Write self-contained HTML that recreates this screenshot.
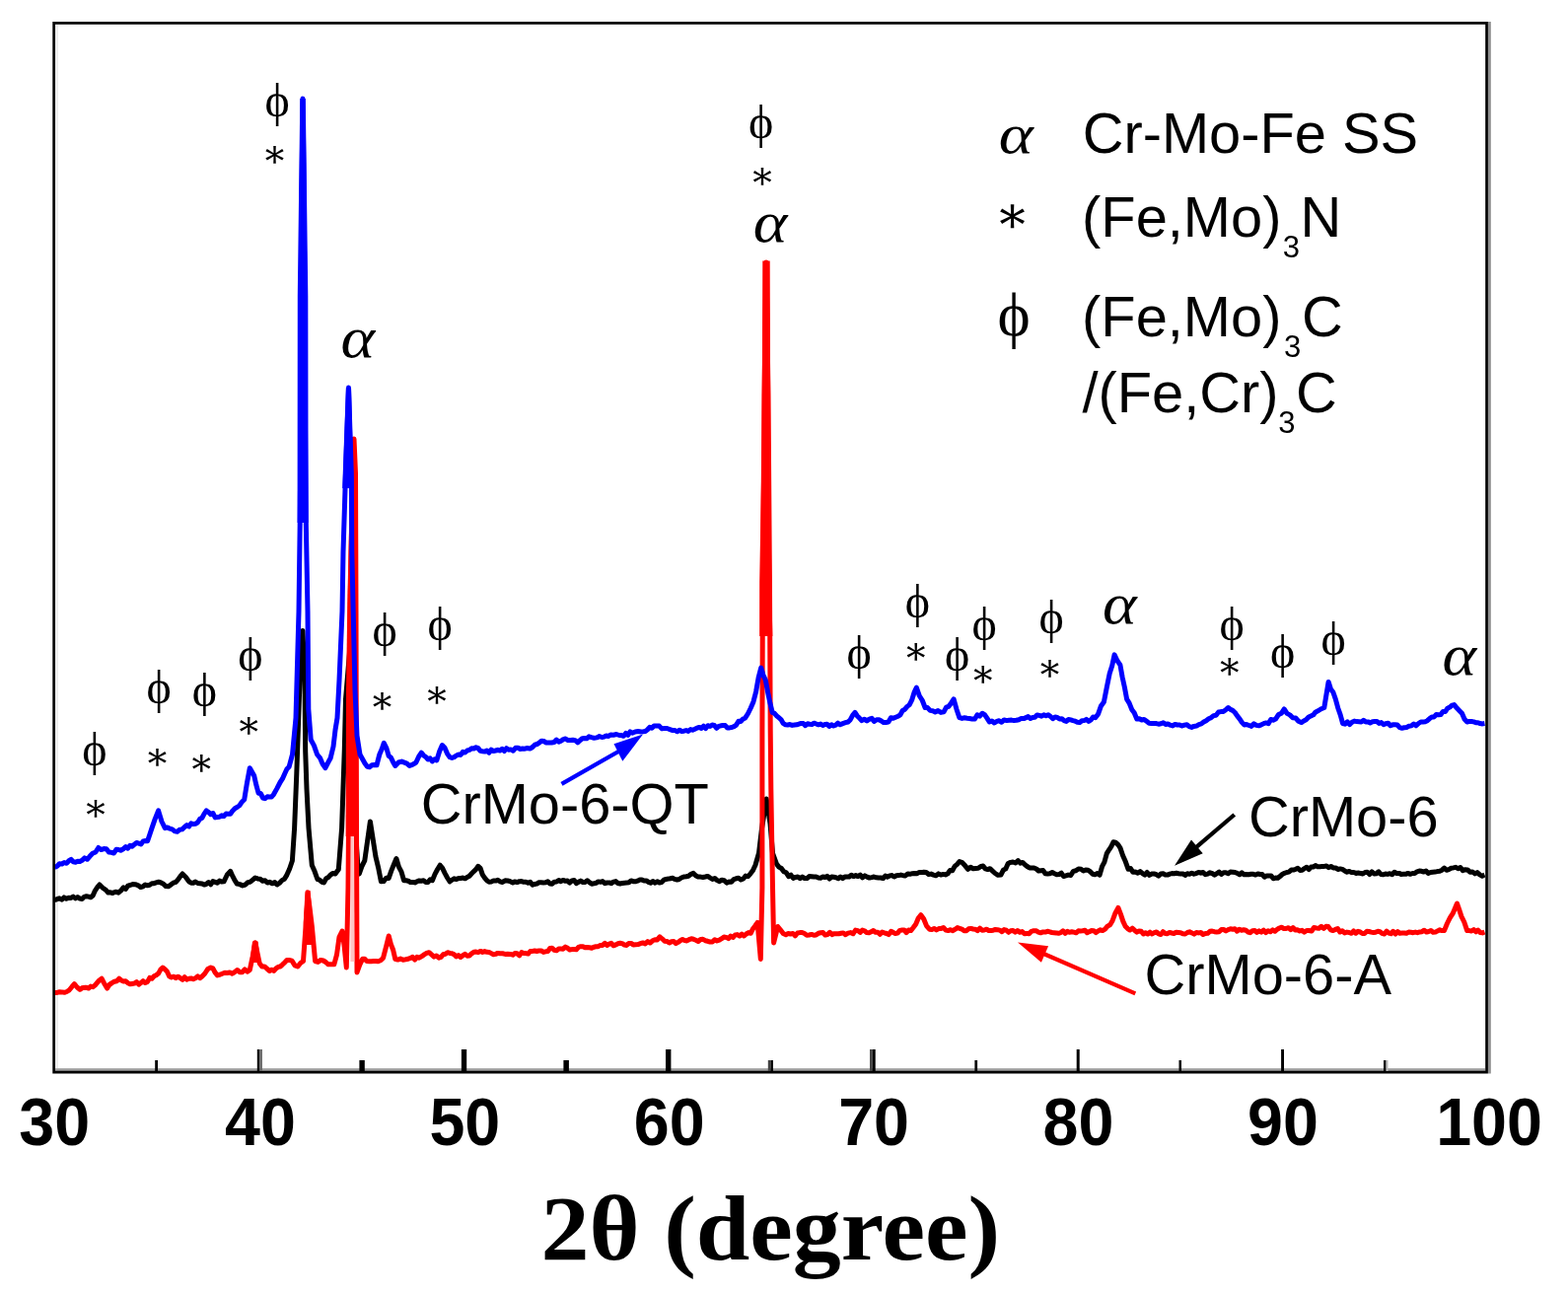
<!DOCTYPE html>
<html><head><meta charset="utf-8"><title>XRD patterns</title>
<style>
html,body{margin:0;padding:0;background:#fff;}
body{width:1590px;height:1311px;overflow:hidden;position:relative;}
svg{position:absolute;left:0;top:0;display:block;}
</style></head><body>
<svg width="1590" height="1311" viewBox="0 0 1590 1311">
<rect width="1590" height="1311" fill="#fff"/>
<rect x="56" y="25" width="3" height="1058" fill="#ececec"/>
<rect x="56" y="1083.2" width="1450" height="2.8" fill="#a0a0a0"/>
<rect x="1509" y="22" width="2.8" height="1066.5" fill="#8e8e8e"/>
<path d="M54.65,1088.3 V23.4 H1507.55 V1087.2 H53.3" fill="none" stroke="#000" stroke-width="2.7"/>
<rect x="157.2" y="1075" width="2.8" height="11" fill="#000"/>
<rect x="260.8" y="1064" width="2.5" height="22" fill="#000"/>
<rect x="263.3" y="1064" width="2.6" height="22" fill="#666"/>
<rect x="364.4" y="1075" width="5.4" height="11" fill="#000"/>
<rect x="467.9" y="1064" width="5.3" height="22" fill="#000"/>
<rect x="571.4" y="1075" width="5.5" height="11" fill="#000"/>
<rect x="675" y="1064" width="5.4" height="22" fill="#000"/>
<rect x="778.8" y="1075" width="2.6" height="11" fill="#444"/>
<rect x="781.4" y="1075" width="2.5" height="11" fill="#000"/>
<rect x="882" y="1064" width="2.5" height="22" fill="#444"/>
<rect x="884.5" y="1064" width="3.2" height="22" fill="#000"/>
<rect x="988.4" y="1075" width="2.7" height="11" fill="#000"/>
<rect x="1091.7" y="1064" width="3.0" height="22" fill="#000"/>
<rect x="1195.5" y="1075" width="2.5" height="11" fill="#000"/>
<rect x="1299.1" y="1064" width="2.9" height="22" fill="#000"/>
<rect x="1403" y="1075" width="2.6" height="11" fill="#000"/>
<rect x="1405.6" y="1075" width="1.9" height="11" fill="#bbb"/>
<defs><clipPath id="pc"><rect x="56" y="25" width="1450" height="1060"/></clipPath></defs>
<path clip-path="url(#pc)" d="M55.5,912.6 L57.9,911.7 L60.2,910.8 L62.6,912.2 L64.9,909.9 L67.3,911.2 L69.6,910.3 L72.0,910.4 L74.2,909.1 L76.5,910.9 L78.7,909.5 L81.0,911.1 L83.2,911.5 L85.4,909.3 L87.6,908.7 L89.8,909.1 L92.0,909.8 L94.2,908.0 L96.4,903.1 L98.7,899.7 L100.9,897.0 L104.2,900.2 L107.5,902.6 L109.7,905.1 L112.0,904.8 L114.2,905.5 L117.1,904.2 L120.1,905.2 L123.0,902.6 L125.2,899.8 L127.5,901.3 L129.7,898.1 L131.9,897.5 L134.5,896.6 L137.2,896.7 L139.8,897.6 L142.5,899.6 L145.1,898.8 L147.3,897.1 L149.5,897.8 L151.8,897.3 L154.0,895.8 L156.2,895.7 L158.4,894.9 L160.8,894.2 L163.3,895.0 L165.7,896.2 L168.2,898.6 L170.6,898.8 L173.2,897.1 L175.7,895.2 L178.3,894.4 L180.5,891.9 L182.8,888.6 L185.0,886.0 L188.3,889.2 L191.6,893.8 L193.8,895.2 L196.0,895.2 L198.2,894.0 L200.5,895.5 L202.7,895.7 L204.9,896.0 L207.1,897.1 L209.3,896.3 L211.5,894.6 L213.7,896.8 L215.9,893.6 L218.2,894.4 L220.4,895.3 L222.6,893.1 L224.8,894.0 L227.0,893.8 L230.3,887.0 L233.6,883.4 L235.8,888.2 L238.1,892.7 L240.3,896.0 L243.1,896.6 L246.0,897.9 L248.8,897.0 L251.3,894.6 L253.8,894.2 L256.3,892.1 L258.8,890.0 L261.3,890.9 L263.8,891.2 L266.3,893.2 L268.8,892.7 L271.2,895.1 L273.7,894.3 L276.1,895.8 L278.6,894.6 L281.0,897.0 L283.5,895.2 L285.9,892.6 L288.4,891.3 L290.9,887.1 L293.6,881.0 L296.4,872.7 L298.6,839.6 L300.8,784.2 L303.0,720.0 L305.0,660.0 L307.0,639.4 L309.0,690.0 L309.7,762.0 L311.0,800.0 L313.0,839.6 L316.3,877.2 L319.1,883.6 L321.9,891.5 L324.1,892.2 L326.3,894.3 L328.5,894.9 L330.7,890.7 L332.9,889.6 L335.1,887.1 L337.6,885.4 L340.0,886.0 L343.3,881.6 L346.6,839.6 L349.3,760.0 L350.5,709.0 L355.5,650.0 L357.5,720.0 L360.2,800.0 L361.6,860.0 L363.0,880.0 L364.3,886.0 L367.1,878.0 L369.8,872.7 L375.4,832.9 L380.9,868.3 L383.6,879.6 L386.4,893.8 L389.0,893.6 L391.6,890.3 L394.2,890.4 L396.8,882.9 L399.3,876.8 L401.9,870.5 L404.5,879.2 L407.0,883.9 L409.6,892.7 L411.8,892.7 L414.0,893.2 L416.2,894.6 L418.5,894.5 L420.7,894.9 L422.9,893.8 L425.1,892.9 L427.3,893.2 L429.5,892.8 L431.8,894.5 L434.0,894.6 L436.2,891.7 L438.4,892.7 L441.0,886.4 L443.6,881.5 L446.2,877.2 L448.7,880.4 L451.1,885.4 L453.6,890.0 L456.1,893.8 L458.3,892.3 L460.5,890.8 L462.8,891.5 L465.0,890.6 L467.2,890.4 L469.4,890.1 L471.6,890.8 L473.8,889.4 L476.0,888.2 L478.2,885.8 L480.4,883.6 L482.7,881.4 L484.9,878.3 L487.1,880.4 L489.3,886.9 L491.5,890.1 L493.7,892.7 L495.9,894.2 L498.1,894.1 L500.4,892.9 L502.6,893.1 L504.8,892.3 L507.0,893.8 L509.6,894.5 L512.2,892.8 L514.8,893.0 L517.4,893.7 L520.0,894.9 L522.2,893.9 L524.4,894.6 L526.7,893.7 L528.9,893.6 L531.1,894.3 L533.3,894.2 L535.5,895.2 L537.7,894.2 L540.0,897.2 L542.2,896.4 L544.4,896.1 L546.6,894.7 L548.8,894.8 L551.1,894.9 L553.3,894.8 L555.5,893.7 L557.7,896.0 L559.9,896.2 L562.1,894.2 L564.4,894.1 L566.6,892.5 L568.8,893.7 L571.0,892.4 L573.3,893.3 L575.5,893.1 L577.7,895.1 L579.9,892.9 L582.2,892.5 L584.4,895.7 L586.6,894.3 L588.8,893.1 L591.1,894.5 L593.3,894.4 L595.5,892.8 L597.7,894.6 L600.0,896.2 L602.2,895.8 L604.4,895.3 L606.6,893.9 L608.8,894.3 L611.0,893.6 L613.3,895.7 L615.5,895.0 L617.7,894.9 L619.9,895.7 L622.1,894.1 L624.4,893.6 L626.6,895.5 L628.8,896.0 L631.0,895.4 L633.2,895.2 L635.4,895.1 L637.7,894.7 L639.9,892.9 L642.1,893.7 L644.3,893.8 L646.5,893.2 L648.8,892.1 L651.0,892.1 L653.2,893.0 L655.4,892.9 L657.6,894.4 L659.8,895.3 L662.1,893.5 L664.3,895.2 L666.5,893.7 L668.7,895.0 L670.9,894.6 L673.2,892.2 L675.4,891.4 L677.6,891.1 L679.8,890.7 L682.0,890.3 L684.2,891.4 L686.5,892.0 L688.7,891.5 L690.9,890.0 L693.4,889.0 L695.8,888.7 L698.2,888.2 L700.7,886.3 L703.1,885.4 L705.5,887.8 L707.9,889.1 L710.4,889.1 L712.8,889.5 L715.2,889.0 L717.6,888.4 L720.0,890.0 L722.4,891.5 L724.8,890.5 L727.2,892.6 L729.6,893.7 L732.0,892.2 L734.4,892.7 L736.8,895.1 L739.2,894.1 L741.6,894.2 L744.0,891.6 L746.4,890.8 L748.9,890.2 L751.3,892.0 L753.7,891.0 L756.1,888.1 L758.5,888.6 L761.0,885.8 L763.5,882.5 L766.0,877.0 L769.5,865.0 L772.5,840.0 L777.2,810.0 L781.0,835.0 L783.5,865.0 L787.5,876.0 L789.9,879.1 L792.4,880.5 L794.8,883.7 L797.3,884.8 L799.7,888.6 L802.0,887.1 L804.3,890.4 L806.7,889.4 L809.0,889.1 L811.3,890.6 L813.6,889.0 L816.0,890.6 L818.3,890.6 L820.6,888.6 L822.9,888.8 L825.3,889.1 L827.6,889.0 L829.9,890.0 L832.1,890.2 L834.4,889.0 L836.6,889.5 L838.8,888.4 L841.0,891.0 L843.3,889.0 L845.5,889.3 L847.7,889.7 L850.0,890.7 L852.2,889.0 L854.4,890.6 L856.6,889.1 L858.9,889.1 L861.1,889.0 L863.3,887.2 L865.5,888.6 L867.8,887.6 L870.0,888.6 L872.3,887.1 L874.6,889.9 L877.0,887.9 L879.3,889.1 L881.6,890.1 L883.9,889.6 L886.2,889.0 L888.6,889.8 L890.9,890.0 L893.2,890.0 L895.5,890.6 L897.7,888.0 L900.0,889.2 L902.2,887.9 L904.5,887.6 L906.7,889.0 L909.0,887.8 L911.2,887.6 L913.5,887.1 L915.8,887.7 L918.1,887.9 L920.5,886.0 L922.8,886.3 L925.1,885.7 L927.4,885.4 L929.7,885.7 L932.1,884.6 L934.4,884.6 L936.7,884.2 L939.2,884.5 L941.7,886.5 L944.2,886.1 L946.6,887.1 L949.1,887.8 L951.6,885.9 L954.1,887.1 L956.4,886.4 L958.7,886.9 L961.1,885.7 L963.4,882.4 L965.7,882.8 L968.1,878.4 L970.5,876.4 L972.9,873.5 L975.8,874.6 L978.7,877.8 L981.6,881.3 L984.2,879.3 L986.8,880.7 L989.4,880.5 L992.0,880.3 L994.6,878.4 L996.9,878.1 L999.2,880.9 L1001.6,881.6 L1003.9,880.7 L1006.2,882.8 L1009.1,885.5 L1012.0,887.3 L1014.9,887.1 L1017.3,882.3 L1019.8,880.9 L1022.2,875.5 L1024.7,874.4 L1027.2,874.0 L1029.8,875.0 L1032.3,872.6 L1034.6,875.2 L1036.9,874.4 L1039.3,876.7 L1041.6,878.5 L1043.9,879.9 L1046.2,879.9 L1048.5,880.0 L1050.9,881.0 L1053.2,883.0 L1055.5,882.8 L1057.8,882.6 L1060.0,885.7 L1062.3,886.0 L1064.6,885.8 L1067.0,884.5 L1069.3,885.7 L1071.6,886.8 L1073.9,886.6 L1076.2,885.2 L1078.6,888.5 L1080.9,887.9 L1083.2,887.1 L1085.8,887.5 L1088.4,883.4 L1091.0,882.8 L1093.6,880.9 L1096.2,881.3 L1098.6,883.0 L1100.9,882.0 L1103.3,882.2 L1105.7,883.9 L1108.0,886.3 L1110.4,886.7 L1112.7,885.6 L1115.1,887.1 L1117.5,878.7 L1119.9,874.1 L1122.3,865.4 L1124.5,861.8 L1126.8,858.3 L1129.0,853.8 L1131.3,854.3 L1133.6,856.2 L1135.9,859.6 L1138.6,867.5 L1141.4,873.8 L1144.1,881.3 L1146.5,880.6 L1148.9,884.3 L1151.3,884.0 L1153.8,885.3 L1156.2,883.6 L1158.6,885.7 L1160.9,887.1 L1163.2,884.5 L1165.5,887.4 L1167.8,886.1 L1170.2,885.9 L1172.5,886.7 L1174.8,888.1 L1177.1,886.0 L1179.4,885.7 L1181.7,887.1 L1183.9,887.1 L1186.2,886.1 L1188.4,885.6 L1190.6,885.7 L1192.9,885.2 L1195.1,885.7 L1197.3,886.0 L1199.5,885.9 L1201.8,887.4 L1204.0,885.7 L1206.2,886.3 L1208.5,885.2 L1210.7,886.2 L1213.0,885.6 L1215.3,884.5 L1217.7,885.2 L1220.0,884.4 L1222.3,886.7 L1224.6,886.1 L1226.9,884.8 L1229.3,885.7 L1231.6,887.2 L1233.9,885.7 L1236.2,884.1 L1238.5,886.4 L1240.8,884.8 L1243.1,884.8 L1245.4,885.8 L1247.7,884.1 L1250.0,884.2 L1252.3,884.5 L1254.6,885.4 L1257.0,886.7 L1259.3,884.8 L1261.6,886.8 L1263.9,886.6 L1266.2,886.7 L1268.6,886.2 L1270.9,886.3 L1273.2,887.1 L1275.5,885.9 L1277.7,886.5 L1280.0,886.6 L1282.2,889.2 L1284.5,887.9 L1286.7,887.9 L1289.0,887.9 L1291.2,890.8 L1293.5,890.0 L1295.8,890.3 L1298.0,888.6 L1300.3,886.4 L1302.5,885.3 L1304.8,884.5 L1307.0,884.1 L1309.3,882.1 L1311.5,882.1 L1313.8,881.3 L1316.0,880.3 L1318.3,882.4 L1320.5,882.2 L1322.7,880.6 L1325.0,879.3 L1327.2,881.5 L1329.4,879.1 L1331.6,879.0 L1333.9,877.6 L1336.1,878.7 L1338.3,878.8 L1340.6,878.6 L1342.8,878.4 L1345.1,878.0 L1347.4,879.6 L1349.7,878.5 L1352.0,879.9 L1354.3,879.9 L1356.7,881.5 L1359.0,880.9 L1361.3,881.4 L1363.6,883.0 L1365.9,884.2 L1368.2,883.4 L1370.5,884.6 L1372.8,884.5 L1375.1,885.4 L1377.3,885.1 L1379.6,885.4 L1381.9,886.0 L1384.2,884.5 L1386.5,884.3 L1388.8,886.6 L1391.1,883.9 L1393.4,885.9 L1395.7,885.7 L1398.0,883.8 L1400.2,886.5 L1402.5,886.8 L1404.8,886.0 L1407.1,886.4 L1409.4,885.7 L1411.7,886.7 L1414.0,884.3 L1416.3,885.5 L1418.6,885.4 L1420.8,886.4 L1423.1,886.3 L1425.4,886.3 L1427.7,885.4 L1430.0,886.3 L1432.3,885.5 L1434.6,885.5 L1436.9,883.8 L1439.2,883.1 L1441.5,883.3 L1443.7,884.0 L1446.0,883.1 L1448.3,885.5 L1450.6,884.5 L1452.9,884.2 L1455.2,884.1 L1457.5,883.6 L1459.9,883.3 L1462.2,882.2 L1464.5,880.1 L1466.8,882.3 L1469.1,881.6 L1471.5,880.3 L1473.8,879.9 L1476.1,879.3 L1478.5,880.7 L1480.9,879.5 L1483.3,882.6 L1485.8,881.7 L1488.2,881.9 L1490.6,884.2 L1493.1,883.9 L1495.6,885.9 L1498.0,884.6 L1500.5,886.9 L1503.0,888.2 L1505.5,887.1" fill="none" stroke="#000" stroke-width="5.0" stroke-linejoin="round" stroke-linecap="butt"/>
<path clip-path="url(#pc)" d="M55.5,1006.6 L57.9,1006.4 L60.4,1005.8 L62.8,1005.9 L65.3,1006.3 L67.7,1005.5 L70.3,1003.8 L72.8,1000.7 L75.4,997.7 L78.2,1001.0 L81.0,1003.3 L83.9,1001.4 L86.9,1001.2 L89.8,1002.0 L92.0,1000.1 L94.3,1000.7 L96.5,998.8 L99.8,994.8 L103.1,992.2 L105.8,997.3 L108.6,1002.0 L111.0,998.4 L113.5,996.6 L115.9,995.3 L118.4,994.7 L120.8,992.2 L123.0,994.0 L125.2,995.0 L127.5,994.8 L129.7,996.7 L131.9,997.7 L134.1,997.4 L136.3,997.1 L138.5,995.7 L140.7,998.2 L142.9,996.6 L145.1,994.7 L147.3,996.5 L149.6,995.4 L151.8,991.4 L154.0,992.2 L156.2,989.8 L158.4,988.8 L160.6,987.1 L162.8,983.1 L165.0,981.0 L167.2,982.7 L169.4,985.0 L171.7,990.0 L173.9,991.0 L176.1,990.2 L178.3,991.6 L180.5,990.2 L182.8,991.7 L185.0,993.3 L187.2,990.7 L189.4,993.1 L191.6,992.2 L193.8,991.9 L196.0,992.8 L198.2,991.8 L200.5,989.8 L202.7,991.7 L204.9,990.0 L207.8,987.0 L210.8,982.4 L213.7,981.0 L215.9,981.9 L218.2,986.2 L220.4,988.9 L222.9,988.3 L225.4,987.3 L227.9,986.3 L230.5,986.5 L233.0,985.9 L235.5,987.2 L238.0,985.6 L240.6,983.5 L243.1,985.7 L245.7,985.7 L248.2,982.8 L250.8,985.2 L253.3,983.4 L256.1,970.3 L258.8,955.7 L263.2,976.7 L265.7,980.0 L268.2,979.9 L270.7,982.1 L273.2,984.5 L275.4,983.2 L277.6,984.4 L279.8,982.1 L282.0,980.4 L284.2,980.0 L286.4,978.1 L288.6,975.9 L290.9,973.5 L293.1,973.4 L296.0,974.2 L299.0,978.9 L301.9,980.0 L304.7,976.5 L307.5,974.5 L310.0,940.0 L311.9,904.8 L314.0,920.0 L316.3,939.1 L319.6,974.5 L322.4,975.4 L325.2,973.4 L327.8,974.0 L330.3,975.5 L332.9,977.8 L335.9,977.8 L338.8,977.8 L341.5,968.0 L344.0,950.0 L347.0,944.0 L349.0,958.0 L351.3,981.0 L353.0,900.0 L353.5,840.0 L355.0,620.0 L357.5,480.0 L359.0,445.0 L360.5,480.0 L361.0,620.0 L361.5,840.0 L362.0,986.0 L364.8,978.1 L367.6,972.3 L369.8,972.2 L372.0,974.6 L374.2,974.7 L376.5,974.8 L378.7,974.6 L380.9,974.5 L383.5,974.8 L386.0,973.8 L388.6,971.2 L391.4,960.3 L394.2,949.0 L396.4,957.5 L398.6,963.0 L400.8,972.3 L403.4,973.1 L406.1,972.1 L408.7,973.2 L411.4,972.8 L414.0,972.3 L416.2,971.4 L418.4,970.3 L420.7,973.1 L422.9,970.2 L425.1,971.2 L427.6,969.7 L430.1,967.9 L432.6,966.4 L435.1,965.7 L437.6,967.9 L440.1,970.1 L442.5,969.0 L445.0,971.2 L447.2,970.4 L449.4,967.8 L451.7,967.3 L453.9,965.7 L456.1,966.4 L458.3,966.7 L460.5,967.8 L462.7,970.0 L464.9,968.6 L467.1,970.5 L469.4,968.7 L471.6,967.3 L473.8,969.2 L476.0,969.1 L478.2,966.8 L480.5,965.3 L482.7,965.1 L484.9,965.7 L487.1,964.4 L489.3,965.4 L491.5,964.6 L493.7,965.3 L495.9,965.4 L498.2,966.6 L500.4,967.8 L502.6,967.4 L504.8,966.4 L507.0,966.8 L509.6,966.8 L512.2,967.4 L514.8,967.2 L517.4,967.4 L520.0,968.2 L522.2,966.4 L524.4,966.8 L526.7,968.8 L528.9,965.6 L531.1,966.5 L533.3,966.6 L535.5,967.1 L537.7,964.5 L540.0,964.4 L542.2,964.0 L544.4,964.5 L546.6,963.9 L548.8,963.9 L551.1,965.4 L553.3,964.8 L555.5,964.6 L557.7,961.5 L559.9,961.3 L562.1,963.4 L564.4,963.8 L566.6,962.1 L568.8,962.0 L571.0,962.2 L573.3,960.1 L575.5,961.3 L577.7,963.0 L579.9,962.6 L582.2,962.6 L584.4,962.8 L586.6,960.3 L588.8,959.7 L591.1,959.7 L593.3,960.8 L595.5,960.5 L597.7,960.8 L600.0,961.3 L602.2,960.2 L604.4,959.7 L606.6,959.7 L608.8,958.4 L611.0,958.4 L613.3,956.3 L615.5,958.5 L617.7,957.2 L619.9,956.4 L622.1,958.8 L624.4,957.9 L626.6,956.8 L628.8,956.3 L631.0,956.7 L633.2,958.1 L635.4,958.4 L637.7,956.5 L639.9,956.4 L642.1,957.9 L644.5,957.7 L647.0,957.6 L649.4,956.7 L651.9,955.9 L654.3,956.9 L656.8,954.6 L659.2,956.0 L661.7,953.8 L664.1,952.8 L666.5,952.9 L669.0,949.8 L671.4,951.8 L673.9,954.2 L676.3,954.4 L678.7,956.0 L680.9,954.8 L683.2,954.5 L685.4,956.6 L687.6,955.4 L689.8,953.7 L692.1,952.4 L694.3,953.6 L696.5,953.9 L698.7,952.7 L701.0,951.8 L703.2,952.3 L705.6,953.3 L708.0,954.5 L710.4,952.5 L712.8,952.3 L715.2,953.7 L717.6,954.3 L720.0,955.0 L722.4,955.0 L724.7,952.7 L727.1,954.0 L729.4,953.2 L731.8,951.7 L734.1,950.1 L736.5,950.4 L738.7,951.6 L741.0,949.0 L743.2,950.4 L745.5,948.0 L747.7,947.6 L750.0,949.0 L752.2,947.1 L754.5,949.0 L756.7,947.0 L759.0,945.6 L761.2,946.3 L763.5,941.7 L765.8,938.7 L768.1,935.3 L771.3,972.4 L772.9,900.0 L772.9,740.0 L773.4,600.0 L775.0,400.0 L777.0,266.0 L779.0,400.0 L780.5,600.0 L781.2,740.0 L781.8,800.0 L783.5,900.0 L784.6,956.0 L788.7,939.5 L791.4,942.8 L794.2,946.5 L796.9,947.7 L799.3,946.4 L801.6,947.1 L804.0,946.4 L806.3,948.9 L808.7,946.0 L811.0,945.6 L813.4,945.5 L815.8,946.5 L818.1,948.2 L820.5,948.0 L822.8,947.4 L825.2,948.2 L827.5,947.9 L829.9,946.3 L832.2,945.8 L834.5,945.5 L836.8,948.1 L839.1,947.6 L841.4,945.3 L843.6,947.6 L845.9,946.7 L848.2,946.8 L850.5,946.8 L852.8,946.3 L855.1,945.9 L857.4,947.7 L859.9,946.1 L862.4,945.6 L865.0,946.8 L867.5,943.1 L870.0,943.6 L872.2,945.4 L874.5,943.1 L876.7,943.8 L878.9,945.6 L881.2,945.8 L883.4,944.7 L885.6,943.6 L887.8,945.3 L890.1,945.2 L892.3,947.3 L894.5,945.0 L896.8,945.8 L899.0,946.5 L901.2,947.6 L903.5,944.4 L905.7,945.4 L907.9,946.5 L910.2,946.1 L912.4,943.4 L914.7,943.1 L916.9,942.9 L919.1,945.6 L921.4,943.0 L923.6,943.6 L926.1,940.5 L928.7,937.0 L931.2,931.1 L933.8,927.7 L936.7,931.8 L939.6,938.9 L942.5,942.2 L944.9,942.6 L947.2,941.4 L949.6,942.9 L952.0,941.6 L954.4,941.4 L956.7,940.5 L959.1,943.1 L961.5,943.6 L963.9,942.7 L966.2,943.7 L968.6,942.2 L970.9,940.6 L973.1,941.3 L975.4,942.1 L977.7,943.8 L980.0,943.7 L982.2,941.8 L984.5,941.4 L986.8,942.0 L989.0,942.2 L991.3,943.7 L993.6,941.1 L995.9,943.2 L998.1,943.0 L1000.4,942.2 L1002.6,943.5 L1004.9,943.6 L1007.1,943.2 L1009.3,942.5 L1011.6,942.7 L1013.8,943.1 L1016.0,944.7 L1018.2,942.6 L1020.5,943.2 L1022.7,945.3 L1024.9,943.8 L1027.2,943.4 L1029.4,945.1 L1031.8,943.5 L1034.1,945.3 L1036.5,944.5 L1038.8,946.7 L1041.2,946.4 L1043.5,946.8 L1045.9,944.3 L1048.2,943.7 L1050.6,943.7 L1052.9,945.1 L1055.3,945.8 L1057.6,944.9 L1060.0,945.1 L1062.2,944.2 L1064.5,944.8 L1066.7,945.5 L1068.9,945.7 L1071.2,945.9 L1073.4,946.3 L1075.6,945.7 L1077.8,943.8 L1080.1,946.3 L1082.3,944.4 L1084.5,945.3 L1086.8,944.7 L1089.0,945.1 L1091.2,945.8 L1093.5,943.8 L1095.7,943.9 L1097.9,943.8 L1100.2,943.3 L1102.4,945.7 L1104.6,944.6 L1106.8,943.6 L1109.1,943.7 L1111.3,945.6 L1113.5,943.9 L1115.8,942.8 L1118.0,943.6 L1120.5,942.1 L1123.0,939.1 L1125.6,937.7 L1128.1,933.5 L1131.0,925.6 L1133.9,920.4 L1136.3,926.6 L1138.8,934.1 L1141.2,939.3 L1143.5,941.6 L1145.8,943.0 L1148.2,941.2 L1150.5,943.2 L1152.8,945.1 L1155.0,943.9 L1157.2,944.2 L1159.4,947.0 L1161.6,945.7 L1163.9,947.0 L1166.1,945.2 L1168.3,946.9 L1170.5,945.6 L1172.7,945.0 L1174.9,946.9 L1177.1,947.5 L1179.3,944.7 L1181.6,946.5 L1183.8,946.7 L1186.0,945.4 L1188.2,946.0 L1190.4,946.5 L1192.7,945.3 L1195.0,945.5 L1197.2,945.7 L1199.5,946.8 L1201.8,947.0 L1204.1,945.5 L1206.3,944.8 L1208.6,945.9 L1210.9,947.1 L1213.2,945.4 L1215.5,945.9 L1217.7,945.5 L1220.0,947.5 L1222.3,946.5 L1224.6,946.3 L1226.9,944.3 L1229.2,944.1 L1231.5,944.7 L1233.8,944.9 L1236.2,944.8 L1238.5,942.6 L1240.8,942.5 L1243.1,943.9 L1245.4,942.6 L1247.7,941.8 L1250.0,942.2 L1252.2,941.8 L1254.5,944.2 L1256.7,942.2 L1258.9,943.3 L1261.2,942.8 L1263.4,943.3 L1265.6,945.0 L1267.8,945.7 L1270.1,943.7 L1272.3,943.4 L1274.5,945.4 L1276.8,943.9 L1279.0,945.1 L1281.3,943.1 L1283.6,945.7 L1285.9,943.7 L1288.2,944.7 L1290.5,942.9 L1292.8,944.2 L1295.0,942.4 L1297.3,941.0 L1299.6,940.2 L1301.9,941.6 L1304.2,941.5 L1306.5,940.7 L1308.8,942.7 L1311.1,940.6 L1313.4,943.0 L1315.6,942.8 L1317.9,943.9 L1320.2,943.3 L1322.5,945.1 L1325.0,943.5 L1327.5,943.5 L1330.0,944.1 L1332.4,940.5 L1334.9,940.9 L1337.4,941.2 L1339.9,939.3 L1342.3,941.4 L1344.6,939.3 L1347.0,939.6 L1349.4,942.9 L1351.7,943.6 L1354.1,942.4 L1356.4,941.5 L1358.8,945.0 L1361.2,943.7 L1363.5,945.9 L1365.9,945.1 L1368.1,945.5 L1370.4,946.3 L1372.6,944.0 L1374.8,946.2 L1377.1,944.3 L1379.3,945.0 L1381.5,946.5 L1383.7,946.5 L1386.0,944.3 L1388.2,944.5 L1390.4,945.1 L1392.7,945.6 L1394.9,945.2 L1397.1,944.3 L1399.4,944.8 L1401.6,946.4 L1403.8,947.0 L1406.1,944.2 L1408.3,946.0 L1410.5,946.7 L1412.7,944.3 L1415.0,947.0 L1417.2,944.6 L1419.4,946.3 L1421.7,946.1 L1423.9,946.0 L1426.2,946.3 L1428.4,945.1 L1430.7,945.3 L1432.9,945.7 L1435.2,945.1 L1437.4,945.7 L1439.7,944.9 L1441.9,944.7 L1444.2,943.2 L1446.5,945.1 L1448.7,944.5 L1451.0,943.5 L1453.2,945.2 L1455.5,945.1 L1457.7,943.9 L1460.0,942.8 L1462.2,943.6 L1464.5,943.6 L1467.4,936.5 L1470.3,930.7 L1473.2,926.2 L1477.5,916.1 L1479.7,922.4 L1481.9,929.1 L1484.8,935.0 L1487.7,943.6 L1489.9,943.6 L1492.2,944.0 L1494.4,942.6 L1496.6,944.8 L1498.8,943.1 L1501.0,945.5 L1503.3,945.9 L1505.5,945.1" fill="none" stroke="#f00" stroke-width="5.0" stroke-linejoin="round" stroke-linecap="butt"/>
<path clip-path="url(#pc)" d="M357,447 L361,447 L362.3,620 L363.4,848 L350.6,848 L351,700 L352.5,600 L355,500 Z" fill="#f00"/>
<path d="M310,903 L314.6,903 L316.9,935 L316.6,958 L308.2,958 L307.8,935 Z M256,954.5 L261.6,954.5 L264,976 L253.4,976 Z" fill="#f00"/>
<path d="M355.6,848 L358.8,848 L359.2,975 L355.4,975 Z" fill="#ffc4c4"/>
<path d="M773.3,264.5 L780.7,264.5 L781.2,455 L782.3,600 L783.4,645 L770.2,645 L770.2,590 L772.6,455 Z" fill="#f00"/>
<path d="M304.3,100 L309.8,100 L312.3,300 L312.6,530 L301.6,530 L301.8,300 Z M350.9,393 L356,393 L358.5,495 L347.2,495 Z" fill="#00f"/>
<path clip-path="url(#pc)" d="M55.5,879.4 L57.9,878.3 L60.3,875.7 L62.7,876.1 L65.1,874.5 L67.5,875.3 L69.9,872.7 L72.1,871.4 L74.3,873.8 L76.6,874.2 L78.8,873.2 L81.0,873.4 L83.2,872.3 L85.8,869.9 L88.4,871.3 L91.0,868.3 L93.9,865.3 L96.9,864.0 L99.8,859.5 L102.5,861.5 L105.3,860.6 L107.9,860.7 L110.4,864.0 L113.0,864.3 L115.4,865.0 L117.9,861.3 L120.3,861.6 L122.8,862.2 L125.2,860.6 L127.4,858.6 L129.6,860.2 L131.9,857.2 L134.1,858.2 L136.3,856.2 L138.5,854.4 L140.7,855.1 L142.9,855.9 L145.2,852.9 L147.4,852.6 L149.6,852.8 L151.8,846.2 L154.0,839.6 L157.3,830.1 L160.6,821.9 L164.0,833.0 L167.3,839.6 L169.8,838.9 L172.2,840.2 L174.7,840.9 L177.2,842.9 L179.7,843.3 L182.2,841.3 L184.7,840.9 L187.2,838.5 L189.4,836.6 L191.6,838.0 L193.8,834.9 L196.0,835.6 L198.2,835.2 L200.4,834.0 L202.6,830.5 L204.9,829.2 L207.1,825.1 L209.3,821.9 L211.5,823.5 L213.7,825.8 L216.0,824.5 L218.2,828.9 L220.4,828.5 L222.6,828.3 L224.8,826.8 L227.0,827.5 L229.2,825.1 L231.4,825.2 L233.6,825.2 L235.9,822.1 L238.1,819.7 L240.3,818.5 L242.8,816.8 L245.2,813.2 L247.7,810.8 L250.5,793.7 L253.3,778.7 L257.7,786.5 L259.9,796.2 L262.1,804.2 L264.3,804.5 L266.6,809.0 L268.8,809.7 L271.0,807.8 L273.2,808.0 L275.4,808.0 L277.6,805.3 L280.9,799.4 L284.2,793.0 L286.4,789.7 L288.6,784.7 L290.9,779.8 L293.1,777.6 L296.5,765.0 L300.0,728.0 L303.0,620.0 L304.2,530.0 L305.3,400.0 L306.0,200.0 L307.0,100.0 L308.3,200.0 L309.2,400.0 L310.3,530.0 L312.0,620.0 L312.8,719.0 L315.2,750.0 L318.4,755.9 L321.6,765.0 L324.4,768.3 L327.1,774.5 L329.9,778.6 L332.5,773.5 L335.1,768.8 L338.0,757.0 L340.0,740.0 L342.0,728.0 L344.0,690.0 L347.0,620.0 L348.0,560.0 L350.5,480.0 L353.5,393.0 L356.3,480.0 L356.8,560.0 L358.2,620.0 L360.0,700.0 L362.0,746.0 L365.0,765.0 L367.5,769.5 L370.0,774.0 L372.4,777.2 L374.7,777.7 L377.1,775.8 L379.6,775.5 L382.0,775.8 L384.8,765.0 L387.1,759.7 L389.3,753.3 L391.8,758.3 L394.2,766.5 L396.4,768.1 L398.6,772.7 L400.8,776.5 L404.1,773.0 L407.4,772.1 L410.0,773.1 L412.6,774.1 L415.2,776.5 L417.4,775.7 L419.6,774.6 L421.8,773.2 L424.6,767.2 L427.3,763.2 L429.5,765.9 L431.8,767.6 L434.0,769.9 L436.2,768.9 L438.4,771.9 L440.6,769.9 L442.8,771.0 L445.6,762.1 L448.4,755.5 L451.0,758.2 L453.5,764.1 L456.1,767.7 L458.3,768.5 L460.5,767.7 L462.8,766.0 L465.0,765.1 L467.2,765.4 L469.4,762.3 L471.6,763.0 L473.8,761.0 L476.0,760.4 L478.2,758.8 L480.5,759.0 L482.7,757.7 L484.9,758.6 L487.1,761.4 L489.3,761.8 L491.5,762.1 L493.7,761.1 L495.9,763.2 L498.1,760.1 L500.4,761.6 L502.6,761.0 L504.8,760.3 L507.0,761.0 L509.2,759.3 L511.4,761.5 L513.6,758.7 L515.8,760.3 L518.0,759.9 L520.4,761.2 L522.8,758.3 L525.2,758.3 L527.5,759.5 L529.9,758.9 L532.3,759.2 L534.7,758.5 L537.4,759.1 L540.0,757.5 L542.3,755.2 L544.6,754.5 L546.8,753.2 L549.1,751.2 L551.4,751.5 L554.0,753.1 L556.7,753.0 L559.4,753.0 L562.0,752.5 L564.3,750.1 L566.6,752.3 L568.9,751.2 L571.2,749.6 L573.5,749.0 L576.0,750.6 L578.4,750.4 L580.9,750.3 L583.3,750.7 L585.8,752.8 L588.1,750.7 L590.4,748.8 L592.6,748.6 L594.9,748.8 L597.2,746.8 L599.8,747.6 L602.5,748.3 L605.1,747.9 L607.8,746.6 L610.4,747.5 L612.6,747.1 L614.8,746.0 L617.0,746.6 L619.2,745.0 L622.1,745.2 L625.1,744.5 L628.0,745.5 L630.2,745.6 L632.4,746.3 L634.6,743.4 L636.8,745.3 L639.0,741.9 L641.2,743.2 L644.1,742.0 L647.1,741.5 L650.0,742.0 L652.2,741.8 L654.4,741.5 L656.6,739.8 L658.8,737.4 L661.0,738.3 L663.2,736.0 L665.8,735.9 L668.5,736.1 L671.1,738.9 L673.8,738.4 L676.4,738.5 L680.0,739.8 L682.3,740.6 L684.5,740.6 L686.8,741.8 L689.0,740.2 L691.3,741.5 L693.5,741.2 L695.8,740.6 L698.0,741.4 L700.2,739.6 L702.4,740.2 L704.6,739.3 L706.8,738.1 L709.0,737.4 L711.2,738.4 L713.4,736.2 L715.6,738.6 L717.8,735.7 L720.0,736.5 L722.2,735.0 L724.4,735.4 L726.6,738.3 L728.8,736.4 L731.0,735.8 L733.2,735.5 L735.4,735.6 L737.6,738.0 L739.8,737.9 L742.0,737.5 L744.3,736.6 L746.6,735.1 L748.9,731.2 L751.1,731.4 L753.4,729.0 L755.7,727.9 L758.5,723.5 L761.2,718.0 L764.0,711.4 L766.6,701.3 L769.1,687.1 L771.7,677.1 L774.0,684.6 L776.3,689.5 L778.6,701.9 L780.9,712.9 L783.2,722.4 L785.4,723.3 L787.6,725.8 L789.8,727.7 L792.0,729.6 L794.2,733.4 L796.5,734.8 L798.8,734.9 L801.0,734.6 L803.3,735.4 L805.6,735.0 L807.9,734.8 L810.1,734.1 L812.3,733.4 L814.5,733.4 L816.7,735.7 L818.9,733.8 L821.1,734.2 L823.3,734.5 L825.5,733.2 L827.7,734.0 L829.9,734.8 L832.1,734.1 L834.3,735.5 L836.5,734.4 L838.7,734.2 L840.9,736.4 L843.1,734.8 L845.3,736.0 L847.5,735.2 L849.7,733.2 L851.9,734.8 L854.6,733.6 L857.3,732.7 L860.0,732.0 L862.3,729.7 L864.7,725.1 L867.0,722.4 L869.3,725.9 L871.5,728.1 L873.8,730.7 L876.4,729.2 L879.0,730.9 L881.6,729.1 L884.0,728.3 L886.4,731.4 L888.9,729.7 L891.3,729.7 L893.7,731.0 L896.1,732.6 L898.5,732.4 L900.9,732.1 L903.4,727.7 L905.8,728.3 L908.2,727.2 L910.6,726.2 L912.9,724.9 L915.2,720.5 L917.6,719.2 L919.9,716.4 L922.2,714.6 L924.6,709.9 L927.0,702.2 L929.4,697.2 L932.3,705.5 L935.2,710.0 L938.1,717.5 L940.6,717.6 L943.2,720.4 L945.8,720.8 L948.3,721.9 L951.2,720.6 L954.1,722.4 L957.0,721.9 L959.5,717.2 L962.0,716.3 L964.6,712.7 L967.1,708.8 L970.0,719.2 L972.9,727.7 L975.5,728.4 L978.1,727.8 L980.7,728.2 L983.3,728.5 L985.9,729.1 L988.5,729.0 L991.0,724.8 L993.5,726.1 L996.1,723.3 L998.5,724.6 L1000.9,728.1 L1003.3,732.0 L1005.8,731.0 L1008.3,733.0 L1010.8,731.4 L1013.2,730.8 L1015.7,732.3 L1018.2,729.9 L1020.7,730.6 L1023.2,730.2 L1025.7,730.1 L1028.2,730.6 L1030.6,730.3 L1033.1,729.7 L1035.6,728.4 L1038.1,728.6 L1040.4,727.6 L1042.6,726.6 L1044.9,728.5 L1047.1,727.5 L1049.4,727.3 L1051.6,724.9 L1053.9,725.4 L1056.1,726.2 L1058.4,724.8 L1060.7,725.7 L1063.0,724.8 L1065.3,726.5 L1067.6,728.6 L1069.9,727.0 L1072.2,727.4 L1074.5,729.1 L1076.8,728.8 L1079.0,730.6 L1081.3,731.4 L1083.5,729.5 L1085.8,729.9 L1088.0,730.6 L1090.3,731.2 L1092.5,732.3 L1094.8,732.6 L1097.1,730.7 L1099.3,730.6 L1101.6,729.4 L1103.9,731.4 L1106.2,729.9 L1108.4,727.0 L1110.7,727.7 L1113.6,723.9 L1116.5,715.7 L1119.4,711.7 L1122.3,696.9 L1125.2,682.8 L1127.7,675.0 L1130.1,663.9 L1133.0,670.0 L1135.9,674.1 L1138.1,686.5 L1140.4,697.0 L1142.6,708.8 L1145.1,712.8 L1147.7,719.4 L1150.2,722.7 L1152.8,729.1 L1155.3,728.7 L1157.7,730.0 L1160.2,729.4 L1162.7,731.3 L1165.2,733.2 L1167.6,733.5 L1170.1,733.5 L1172.5,733.6 L1174.8,734.2 L1177.2,733.8 L1179.6,732.8 L1182.0,734.5 L1184.3,733.9 L1186.7,735.2 L1189.1,735.9 L1191.5,734.4 L1193.8,735.0 L1196.2,734.9 L1198.6,736.0 L1201.0,735.1 L1203.5,734.7 L1205.9,736.7 L1208.3,737.4 L1210.7,736.4 L1213.2,736.1 L1215.7,734.6 L1218.2,733.9 L1220.6,732.0 L1223.1,730.7 L1225.6,728.8 L1228.1,727.7 L1230.6,725.6 L1233.1,725.2 L1235.6,722.0 L1238.0,721.6 L1240.5,721.4 L1243.0,719.7 L1245.5,717.5 L1247.8,719.4 L1250.0,720.4 L1252.3,722.5 L1254.6,725.9 L1257.0,728.9 L1259.3,732.4 L1261.6,734.9 L1264.1,734.6 L1266.6,735.5 L1269.1,736.4 L1271.5,733.8 L1274.0,735.4 L1276.5,735.8 L1279.0,734.9 L1281.4,733.6 L1283.8,732.9 L1286.2,733.6 L1288.7,729.5 L1291.1,730.2 L1293.5,729.1 L1296.4,724.6 L1299.3,723.3 L1302.2,719.0 L1305.1,723.4 L1308.0,724.9 L1310.9,727.7 L1313.8,728.0 L1316.7,731.2 L1319.6,732.6 L1322.0,731.0 L1324.4,729.8 L1326.8,727.3 L1329.3,725.9 L1331.7,724.8 L1334.1,721.9 L1337.0,720.5 L1339.9,718.7 L1342.8,717.5 L1347.1,691.4 L1349.5,698.7 L1351.9,702.0 L1354.3,708.8 L1356.7,717.7 L1359.2,724.9 L1361.6,733.5 L1363.9,734.2 L1366.3,731.8 L1368.7,734.6 L1371.0,732.3 L1373.3,731.1 L1375.7,731.6 L1378.1,731.8 L1380.4,732.0 L1382.7,730.4 L1384.9,731.9 L1387.2,731.9 L1389.4,732.9 L1391.7,731.8 L1393.9,731.6 L1396.2,731.5 L1398.4,733.4 L1400.7,732.6 L1403.0,734.6 L1405.3,733.7 L1407.7,733.2 L1410.0,735.7 L1412.3,734.8 L1414.6,734.7 L1416.9,735.0 L1419.3,737.7 L1421.6,738.3 L1423.9,737.8 L1426.3,737.5 L1428.7,736.3 L1431.2,735.9 L1433.6,734.0 L1436.0,735.8 L1438.4,733.5 L1440.7,732.0 L1442.9,732.0 L1445.2,731.7 L1447.4,730.7 L1449.7,728.6 L1451.9,727.0 L1454.2,726.9 L1456.4,724.5 L1458.7,724.8 L1461.0,724.5 L1463.2,721.4 L1465.5,721.6 L1467.8,718.2 L1470.1,717.1 L1472.3,715.2 L1474.6,714.6 L1477.2,717.8 L1479.8,720.5 L1482.5,723.3 L1485.1,729.3 L1487.7,732.0 L1489.9,731.4 L1492.2,731.5 L1494.4,731.9 L1496.6,732.7 L1498.8,732.7 L1501.0,733.6 L1503.3,733.9 L1505.5,733.5" fill="none" stroke="#00f" stroke-width="5.0" stroke-linejoin="round" stroke-linecap="butt"/>
<path d="M569.5,794.8 L628,761.5" stroke="#00f" stroke-width="4.2" fill="none"/>
<path d="M652,744.6 L622.5,754.3 L631.3,771.8 Z" fill="#00f"/>
<path d="M1251.7,826.0 L1212.3,859.6" stroke="#000" stroke-width="4.2" fill="none"/><path d="M1191.0,877.8 L1208.0,851.5 L1219.7,865.2 Z" fill="#000"/>
<path d="M1151.3,1007.4 L1057.7,966.8" stroke="#f00" stroke-width="4.2" fill="none"/><path d="M1032.0,955.6 L1063.1,959.3 L1055.9,975.8 Z" fill="#f00"/>
</svg>
<svg width="1590" height="1311" viewBox="0 0 1590 1311" style="position:absolute;left:0;top:0">
<g font-family="'Liberation Serif', 'Times New Roman', serif" font-size="48" fill="#000"><text x="83.3" y="775.6">&#x3D5;</text><text x="148.6" y="712.7">&#x3D5;</text><text x="194.7" y="715.5">&#x3D5;</text><text x="241.2" y="679.9">&#x3D5;</text><text x="268.5" y="117.6">&#x3D5;</text><text x="377.6" y="655.3">&#x3D5;</text><text x="433.4" y="648.6">&#x3D5;</text><text x="758.9" y="139.8">&#x3D5;</text><text x="858.5" y="677.5">&#x3D5;</text><text x="917.7" y="625.5">&#x3D5;</text><text x="958.0" y="679.9">&#x3D5;</text><text x="985.5" y="648.7">&#x3D5;</text><text x="1053.5" y="641.8">&#x3D5;</text><text x="1236.4" y="648.7">&#x3D5;</text><text x="1288.1" y="677.0">&#x3D5;</text><text x="1339.4" y="664.0">&#x3D5;</text></g>
<g font-family="'DejaVu Serif', serif" font-size="39" fill="#000"><text x="83.8" y="831.8">&#x2217;</text><text x="146.3" y="780.4">&#x2217;</text><text x="191.1" y="785.6">&#x2217;</text><text x="239.0" y="747.6">&#x2217;</text><text x="265.2" y="169.2">&#x2217;</text><text x="374.2" y="723.0">&#x2217;</text><text x="429.7" y="717.4">&#x2217;</text><text x="759.7" y="191.0">&#x2217;</text><text x="915.4" y="673.2">&#x2217;</text><text x="983.5" y="695.7">&#x2217;</text><text x="1051.3" y="690.0">&#x2217;</text><text x="1233.6" y="687.7">&#x2217;</text></g>
<g font-family="'Liberation Serif', 'Times New Roman', serif" font-style="italic" font-size="60" fill="#000"><text transform="translate(364.4,362.2) scale(1.1,1)" x="-17.1" y="0">&#x3B1;</text><text transform="translate(782.5,245.0) scale(1.1,1)" x="-17.1" y="0">&#x3B1;</text><text transform="translate(1136.9,632.1) scale(1.1,1)" x="-17.1" y="0">&#x3B1;</text><text transform="translate(1481.2,683.6) scale(1.1,1)" x="-17.1" y="0">&#x3B1;</text></g>
<text transform="translate(1031.8,155.2) scale(1.15,1)" x="-16.5" y="0" font-family="'Liberation Serif', 'Times New Roman', serif" font-style="italic" font-size="58">&#x3B1;</text>
<text x="1008.7" y="236.3" font-family="'DejaVu Serif', serif" font-size="53">&#x2217;</text>
<text x="1011.4" y="340" font-family="'Liberation Serif', 'Times New Roman', serif" font-size="63.1">&#x3D5;</text>
<g font-family="'Liberation Sans', Arial, sans-serif" font-size="57.8" fill="#000"><text x="1097.7" y="155.3">Cr-Mo-Fe SS</text><text x="1097.1" y="239.5">(Fe,Mo)<tspan x="1300.7" y="261.3" font-size="31">3</tspan><tspan x="1318.4" y="239.5">N</tspan></text><text x="1097.1" y="341">(Fe,Mo)<tspan x="1302" y="361.8" font-size="31">3</tspan><tspan x="1320" y="341">C</tspan></text><text x="1097.5" y="417.6">/(Fe,Cr)<tspan x="1296.3" y="438.7" font-size="31">3</tspan><tspan x="1314" y="417.6">C</tspan></text><text x="426.7" y="834.5">CrMo-6-QT</text><text x="1265.9" y="848">CrMo-6</text><text x="1160.5" y="1008.4">CrMo-6-A</text></g>
<g font-family="'Liberation Sans', Arial, sans-serif" font-weight="bold" font-size="68.7" text-anchor="middle" fill="#000"><text transform="translate(55.2,1161.2) scale(0.94,1)" x="0" y="0">30</text><text transform="translate(263.9,1161.2) scale(0.94,1)" x="0" y="0">40</text><text transform="translate(471.3,1161.2) scale(0.94,1)" x="0" y="0">50</text><text transform="translate(678.7,1161.2) scale(0.94,1)" x="0" y="0">60</text><text transform="translate(886.1,1161.2) scale(0.94,1)" x="0" y="0">70</text><text transform="translate(1093.5,1161.2) scale(0.94,1)" x="0" y="0">80</text><text transform="translate(1300.9,1161.2) scale(0.94,1)" x="0" y="0">90</text><text transform="translate(1510.0,1161.2) scale(0.94,1)" x="0" y="0">100</text></g>
<text transform="translate(548.5,1276.5) scale(1,0.95)" x="0" y="0" font-family="'Liberation Serif', 'Times New Roman', serif" font-weight="bold" font-size="98" fill="#000">2&#x3B8; (degree)</text>
</svg>
</body></html>
